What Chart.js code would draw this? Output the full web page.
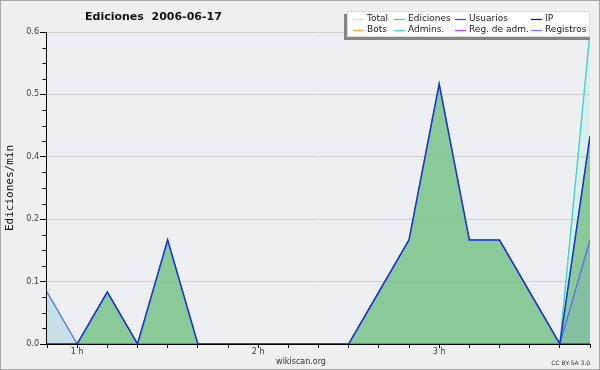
<!DOCTYPE html>
<html>
<head>
<meta charset="utf-8">
<script src="https://cdn.jsdelivr.net/npm/chart.js@4/dist/chart.umd.min.js"></script>
<style>
html,body{margin:0;padding:0;background:#f0f0f0;}
canvas{display:block;}
</style>
</head>
<body>
<canvas id="c" width="600" height="370"></canvas>
<script>
// ---- data (edits per minute, 10-minute buckets) ----
const minutes   = [50,60,70,80,90,100,110,120,130,140,150,160,170,180,190,200,210,220,230];
const total     = [0.1,0,0.1,0,0.2,0,0,0,0,0,0,0.1,0.2,0.5,0.2,0.2,0.1,0,0.6];
const ediciones = [0,0,0.1,0,0.2,0,0,0,0,0,0,0.1,0.2,0.5,0.2,0.2,0.1,0,0.4];
const usuarios  = [0,0,0.1,0,0.2,0,0,0,0,0,0,0.1,0.2,0.5,0.2,0.2,0.1,0,0.4];
const ip        = [0,0,0,0,0,0,0,0,0,0,0,0,0,0,0,0,0,0,0];
const bots      = [0,0,0,0,0,0,0,0,0,0,0,0,0,0,0,0,0,0,0];
const admins    = [0,0,0,0,0,0,0,0,0,0,0,0,0,0,0,0,0,0,0.6];
const regAdm    = [0,0,0,0,0,0,0,0,0,0,0,0,0,0,0,0,0,0,0];
const registros = [0.1,0,0,0,0,0,0,0,0,0,0,0,0,0,0,0,0,0,0.2];

const yTicks = [0,0.12,0.24,0.36,0.48,0.6];
const xTicks = [50,60,70,80,90,100,110,120,130,140,150,160,170,180,190,200,210,220,230];
const hourTicks  = [60,120,180];
const hourLabels = ['1 h','2 h','3 h'];

const titleText = 'Ediciones  2006-06-17';
const yTitle = 'Ediciones/min';

// legend entries in display order (2 rows x 4 columns)
const legendLabels = ['Total','Ediciones','Usuarios','IP','Bots','Admins.','Reg. de adm.','Registros'];
const legendColors = ['#b4eeee','#66cc66','#3344ee','#222222','#ffaa22','#33dddd','#dd33ee','#6677ff'];

const pts = arr => minutes.map((m,i)=>({x:m,y:arr[i]}));

const ds = (label, arr, color, width, fillColor) => ({
  label, data: pts(arr), borderColor: color, borderWidth: width,
  pointRadius: 0, tension: 0,
  fill: fillColor ? 'origin' : false,
  backgroundColor: fillColor || 'transparent'
});

// index 0 is drawn on top
const datasets = [
  ds('Usuarios', usuarios, '#1a2ee0', 1.5),
  ds('Registros', registros, '#4d6bff', 1.2, 'rgba(85,125,226,0.13)'),
  ds('Admins.', admins, '#3fd4c8', 1.3),
  ds('Ediciones', ediciones, '#66cc66', 1.2, 'rgba(105,187,117,0.7)'),
  ds('Total', total, '#b4eeee', 1.2, 'rgba(150,240,210,0.25)'),
  ds('IP', ip, '#222222', 1),
  ds('Bots', bots, '#ffaa22', 1),
  ds('Reg. de adm.', regAdm, '#dd33ee', 1)
];

const deco = {
  id: 'deco',
  beforeDraw(chart) {
    const {ctx, chartArea: a} = chart;
    ctx.save();
    ctx.fillStyle = '#f0f0f0';
    ctx.fillRect(0,0,chart.width,chart.height);
    ctx.fillStyle = '#eeeff2';
    ctx.fillRect(a.left, a.top, a.right-a.left, a.bottom-a.top);
    ctx.restore();
  },
  afterDatasetsDraw(chart) {
    const {ctx, chartArea: a, scales} = chart;
    ctx.save();
    ctx.strokeStyle = '#000';
    ctx.lineWidth = 1;
    const b = Math.round(a.bottom)+0.5, l = Math.round(a.left)-0.5;
    ctx.beginPath();
    ctx.moveTo(l, a.top); ctx.lineTo(l, b);
    ctx.moveTo(l, b); ctx.lineTo(a.right, b);
    // minor y ticks
    for (let k=1; k<20; k++) {
      if (k%4===0) continue;
      const y = Math.round(scales.y.getPixelForValue(k*0.03))+0.5;
      ctx.moveTo(l-4, y); ctx.lineTo(l, y);
    }
    ctx.stroke();
    ctx.restore();
  },
  afterDraw(chart) {
    const {ctx, chartArea: a} = chart;
    ctx.save();
    // outer border
    ctx.strokeStyle = '#a8a8a8';
    ctx.lineWidth = 1;
    ctx.strokeRect(0.5,0.5,chart.width-1,chart.height-1);
    // title
    ctx.fillStyle = '#111';
    ctx.font = 'bold 11px "DejaVu Sans"';
    ctx.textBaseline = 'middle';
    ctx.textAlign = 'left';
    ctx.fillText(titleText, 85, 17);
    // y title
    ctx.save();
    ctx.translate(10, (a.top+a.bottom)/2);
    ctx.rotate(-Math.PI/2);
    ctx.textAlign = 'center';
    ctx.font = '11px "DejaVu Sans Mono"';
    ctx.fillStyle = '#111';
    ctx.fillText(yTitle, 0, 0);
    ctx.restore();
    // footer
    ctx.fillStyle = '#333';
    ctx.font = '8px "DejaVu Sans"';
    ctx.textAlign = 'center';
    ctx.fillText('wikiscan.org', 301, 361.5);
    ctx.font = '6px "DejaVu Sans"';
    ctx.textAlign = 'right';
    ctx.fillText('CC BY-SA 3.0', 590, 363);
    // legend
    ctx.fillStyle = '#858585';
    ctx.fillRect(344, 14, 246, 26);
    ctx.fillStyle = '#ffffff';
    ctx.fillRect(347, 11, 243, 26);
    ctx.strokeStyle = '#dddddd';
    ctx.strokeRect(347.5, 11.5, 242, 25);
    const colX = [367, 408, 469, 545];
    const rowY = [19, 29.5];
    ctx.font = '9px "DejaVu Sans"';
    ctx.textAlign = 'left';
    ctx.textBaseline = 'middle';
    legendLabels.forEach((lab, i) => {
      const c = i%4, r = Math.floor(i/4);
      const x = colX[c], y = rowY[r];
      ctx.strokeStyle = legendColors[i];
      ctx.lineWidth = 1.2;
      ctx.beginPath();
      ctx.moveTo(x-14, Math.round(y)+0.5); ctx.lineTo(x-3, Math.round(y)+0.5);
      ctx.stroke();
      ctx.fillStyle = '#222';
      ctx.fillText(lab, x, y);
    });
    ctx.restore();
  }
};

new Chart(document.getElementById('c'), {
  type: 'line',
  data: { datasets },
  options: {
    responsive: false,
    animation: false,
    devicePixelRatio: 1,
    layout: { padding: { left: 0, right: 10, top: 32, bottom: 0 } },
    plugins: {
      legend: { display: false },
      tooltip: { enabled: false },
      title: { display: false },
      filler: { drawTime: 'beforeDatasetsDraw' }
    },
    scales: {
      x: {
        type: 'linear', min: minutes[0], max: minutes[minutes.length-1],
        afterBuildTicks: s => { s.ticks = xTicks.map(v => ({value: v})); },
        afterFit: s => { s.height = 26; },
        border: { display: false },
        grid: { drawOnChartArea: false, drawTicks: true, tickLength: 4, tickColor: '#000' },
        ticks: {
          autoSkip: false, maxRotation: 0, minRotation: 0, padding: -1,
          color: '#444', font: { family: 'DejaVu Sans', size: 8 },
          callback: v => { const k = hourTicks.indexOf(v); return k >= 0 ? hourLabels[k] : ''; }
        }
      },
      y: {
        min: 0, max: 0.6,
        afterBuildTicks: s => { s.ticks = yTicks.map(v => ({value: v})); },
        afterFit: s => { s.width = 47; },
        border: { display: false },
        grid: { color: '#cfcfcf', drawTicks: true, tickLength: 7, tickColor: '#000' },
        ticks: {
          padding: 1, color: '#444', font: { family: 'DejaVu Sans', size: 8 },
          callback: v => v.toFixed(1)
        }
      }
    }
  },
  plugins: [deco]
});
</script>
</body>
</html>
